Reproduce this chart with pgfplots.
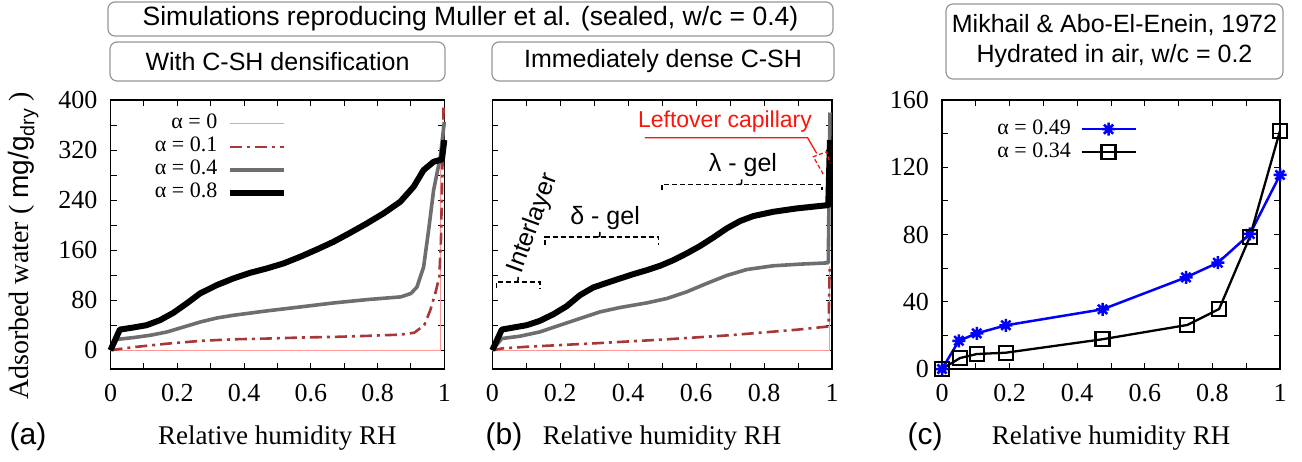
\documentclass[border=0pt]{standalone}
\usepackage{fontspec}
\setmainfont{Liberation Serif}
\setsansfont{Liberation Sans}
\usepackage{pgfplots}
\pgfplotsset{compat=1.18}

\definecolor{pinkline}{RGB}{255,150,150}
\definecolor{brick}{RGB}{168,56,56}
\definecolor{midgray}{RGB}{110,110,110}
\definecolor{boxgray}{RGB}{150,150,150}
\definecolor{capred}{RGB}{255,20,10}

% gnuplot-style asterisk: a plus and a cross on top of each other
\pgfdeclareplotmark{starcross}{%
  \pgfpathmoveto{\pgfqpoint{-\pgfplotmarksize}{0pt}}%
  \pgfpathlineto{\pgfqpoint{\pgfplotmarksize}{0pt}}%
  \pgfpathmoveto{\pgfqpoint{0pt}{-\pgfplotmarksize}}%
  \pgfpathlineto{\pgfqpoint{0pt}{\pgfplotmarksize}}%
  \pgfpathmoveto{\pgfqpoint{-0.707\pgfplotmarksize}{-0.707\pgfplotmarksize}}%
  \pgfpathlineto{\pgfqpoint{0.707\pgfplotmarksize}{0.707\pgfplotmarksize}}%
  \pgfpathmoveto{\pgfqpoint{-0.707\pgfplotmarksize}{0.707\pgfplotmarksize}}%
  \pgfpathlineto{\pgfqpoint{0.707\pgfplotmarksize}{-0.707\pgfplotmarksize}}%
  \pgfusepathqstroke}

\newcommand{\ticksize}{\fontsize{26}{30}\selectfont}
\newcommand{\labelsize}{\fontsize{27}{31}\selectfont}
\newcommand{\legsize}{\fontsize{22}{26}\selectfont}
\newcommand{\boxsize}{\fontsize{25}{29}\selectfont}

\pgfplotsset{
  rhpanel/.style={
    scale only axis, height=269pt,
    xmin=0, xmax=1,
    xtick={0,0.2,0.4,0.6,0.8,1}, minor x tick num=1,
    tick align=inside, major tick length=6pt, minor tick length=6pt,
    tick style={black, line width=0.9pt},
    axis line style={line width=1.3pt},
    /pgf/number format/assume math mode=true,
    tick label style={font=\ticksize},
    xticklabel style={anchor=base, yshift=-32pt, inner sep=0pt},
    yticklabel style={anchor=east, xshift=-13pt, inner sep=0pt},
    every axis x label/.style={at={(axis description cs:0.5,-0.282)}, anchor=base, font=\labelsize},
    xlabel={Relative humidity RH},
    clip=false,
    legend plot pos=right,
  },
  wetlegend/.style={
    legend style={draw=none, fill=none, anchor=north east,
      legend cell align=right, font=\legsize, inner sep=0pt, row sep=0pt,
      nodes={inner sep=1.5pt, text height=15pt, text depth=5pt},
      /tikz/every odd column/.append style={column sep=8pt}},
  },
}

\begin{document}
\begin{tikzpicture}[x=1pt,y=1pt]
\useasboundingbox (0,0) rectangle (1302,461);

% title boxes
\draw[boxgray, line width=1.2pt, rounded corners=7pt] (108,459) rectangle (833,425);
\node[font=\sffamily\fontsize{26.5}{30}\selectfont] at (470.5,442) {Simulations reproducing Muller et al. (sealed, w/c = 0.4)};
\draw[boxgray, line width=1.2pt, rounded corners=7pt] (110,419) rectangle (445,380);
\node[font=\sffamily\boxsize] at (277.5,399.5) {With C-SH densification};
\draw[boxgray, line width=1.2pt, rounded corners=7pt] (492,419) rectangle (834,380);
\node[font=\sffamily\boxsize] at (663,399.5) {Immediately dense C-SH};
\draw[boxgray, line width=1.2pt, rounded corners=7pt] (946,457) rectangle (1283,382);
\node[font=\sffamily\boxsize, align=center] at (1114.5,419.5) {Mikhail \& Abo-El-Enein, 1972\\[1pt]Hydrated in air, w/c = 0.2};

% panel tags
\node[font=\sffamily\fontsize{30}{34}\selectfont] at (28,24) {(a)};
\node[font=\sffamily\fontsize{30}{34}\selectfont] at (504,24) {(b)};
\node[font=\sffamily\fontsize{30}{34}\selectfont] at (925,24) {(c)};

% (a) with C-S-H densification
\begin{axis}[rhpanel, wetlegend, at={(110.5pt,92pt)}, anchor=south west, width=333.8pt,
  ymin=-30, ymax=400, ytick={0,80,...,400}, minor y tick num=1,
  every axis y label/.style={at={(axis description cs:-0.245,0.457)}, rotate=90, anchor=base, font=\fontsize{28}{32}\selectfont},
  ylabel={Adsorbed water ( {\sffamily mg/g\textsubscript{dry}} )},
  legend style={at={(0.529,0.955)}},
  legend image code/.code={\draw[#1] (0pt,0pt) -- (54pt,0pt);}]
\addplot[pinkline, line width=1pt] coordinates {(0,0) (0.988,0) (0.988,305)};
\addlegendentry{α = 0}
\addplot[brick, line width=2.6pt, dash pattern=on 12pt off 5pt on 3pt off 5pt] coordinates {
 (0,0) (0.07,5) (0.17,10.5) (0.27,15) (0.37,17.5) (0.47,18.7) (0.57,20.3) (0.67,21.3)
 (0.77,23) (0.87,25) (0.91,28) (0.94,40) (0.958,64) (0.973,91) (0.985,117) (0.99,176)
 (0.995,309) (0.998,395)};
\addlegendentry{α = 0.1}
\addplot[midgray, line width=3.6pt, line join=round] coordinates {
 (0,0) (0.014,17) (0.07,20.3) (0.12,24) (0.17,29.3) (0.22,37.3) (0.27,45.3) (0.32,51.7)
 (0.37,56) (0.47,63) (0.57,69.3) (0.67,75.7) (0.77,81) (0.87,85.3) (0.90,90.7) (0.918,101)
 (0.938,133) (0.953,192) (0.968,256) (0.988,309) (1.0,365)};
\addlegendentry{α = 0.4}
\addplot[black, line width=6pt, line join=round] coordinates {
 (0,0) (0.028,33) (0.068,36.3) (0.108,40) (0.148,48) (0.188,59.7) (0.228,74.7) (0.268,90.7)
 (0.318,104) (0.368,114.7) (0.418,123.7) (0.468,130.7) (0.518,138.7) (0.568,149.3)
 (0.618,161) (0.668,173.3) (0.718,187.7) (0.768,202.7) (0.818,218.7) (0.868,237.3)
 (0.908,261.3) (0.938,288) (0.968,301.3) (0.993,305) (1.0,336)};
\addlegendentry{α = 0.8}
\end{axis}

% (b) immediately dense C-S-H
\begin{axis}[rhpanel, at={(492.3pt,92pt)}, anchor=south west, width=339.7pt,
  ymin=-30, ymax=400, ytick={0,80,...,400}, minor y tick num=1, yticklabels={}]
\addplot[pinkline, line width=1pt] coordinates {(0,0) (0.992,0) (0.992,135)};
\addplot[brick, line width=2.6pt, dash pattern=on 12pt off 5pt on 3pt off 5pt] coordinates {
 (0,0) (0.03,3) (0.1,5.5) (0.3,11) (0.5,17) (0.7,24) (0.9,33) (0.99,38) (0.993,130)};
\addplot[midgray, line width=3.6pt, line join=round] coordinates {
 (0,0) (0.028,18.7) (0.081,22.4) (0.14,29.3) (0.199,40) (0.258,50.7) (0.317,61.3)
 (0.376,68.3) (0.455,75.7) (0.514,82.7) (0.572,93.3) (0.631,106.7) (0.69,119.5)
 (0.749,129) (0.827,135) (0.906,137.6) (0.989,139.7) (0.994,380)};
\addplot[black, line width=6pt, line join=round] coordinates {
 (0,0) (0.028,33) (0.062,36.3) (0.101,40) (0.14,47) (0.18,57.6) (0.219,70.4) (0.258,88)
 (0.297,100.3) (0.337,107.7) (0.376,114.7) (0.415,121.6) (0.455,128) (0.494,135)
 (0.533,144) (0.572,154.7) (0.611,166.4) (0.651,180.3) (0.69,194.7) (0.729,206.4)
 (0.768,214.4) (0.827,221.3) (0.896,226.7) (0.989,232) (0.994,336)};
% pore-range braces, each with a small centre hook
\begin{scope}[line width=1.5pt, dash pattern=on 5pt off 3pt]
\draw (axis cs:0.013,98.7) -- (axis cs:0.013,109.3) -- (axis cs:0.14,109.3) -- (axis cs:0.14,98.7);
\draw (axis cs:0.155,168) -- (axis cs:0.155,181.3) -- (axis cs:0.489,181.3) -- (axis cs:0.489,168);
\draw (axis cs:0.499,256) -- (axis cs:0.499,265) -- (axis cs:0.970,265) -- (axis cs:0.970,256);
\end{scope}
\begin{scope}[line width=1.5pt]
\draw (axis cs:0.066,109.3) .. controls (axis cs:0.076,109.3) .. (axis cs:0.076,117.3);
\draw (axis cs:0.307,181.3) .. controls (axis cs:0.317,181.3) .. (axis cs:0.317,189.3);
\draw (axis cs:0.724,265) .. controls (axis cs:0.734,265) .. (axis cs:0.734,273);
\end{scope}
\node[font=\sffamily\fontsize{25}{29}\selectfont, rotate=70] at (axis cs:0.12,203) {Interlayer};
\node[font=\sffamily\fontsize{25}{29}\selectfont] at (axis cs:0.332,210.7) {δ - gel};
\node[font=\sffamily\fontsize{25}{29}\selectfont] at (axis cs:0.738,296) {λ - gel};
\node[font=\sffamily\fontsize{23}{27}\selectfont, text=capred] at (axis cs:0.685,365.3) {Leftover capillary};
\draw[capred, line width=1.3pt] (axis cs:0.449,339.7) -- (axis cs:0.928,339.7) -- (axis cs:0.955,314.7);
\draw[capred, line width=1.3pt, dash pattern=on 4pt off 2.5pt] (axis cs:0.974,281.6) -- (axis cs:0.945,309.3) -- (axis cs:0.984,317.3) -- (axis cs:0.994,299);
\end{axis}

% (c) Mikhail & Abo-El-Enein
\begin{axis}[rhpanel, wetlegend, at={(942pt,92pt)}, anchor=south west, width=338pt,
  ymin=0, ymax=160, ytick={0,40,...,160}, minor y tick num=1,
  legend style={at={(0.577,0.935)}},
  legend image code/.code={\draw[mark repeat=2, mark phase=2, #1] plot coordinates {(0pt,0pt) (27pt,0pt) (54pt,0pt)};}]
\addplot[blue, line width=2.5pt, mark=starcross, mark size=6.5pt, mark options={line width=2.5pt}] coordinates {
 (0,0) (0.05,16.8) (0.103,21.2) (0.189,26) (0.475,35.5) (0.722,54.5) (0.816,63.2) (0.911,80.3) (1.0,115.4)};
\addlegendentry{α = 0.49}
\addplot[black, line width=2.3pt, mark=square, mark size=7pt, mark options={line width=2.2pt}] coordinates {
 (0,0) (0.053,6.5) (0.103,8.9) (0.189,9.7) (0.475,17.7) (0.726,26.2) (0.82,35.7) (0.911,78.7) (1.0,141.7)};
\addlegendentry{α = 0.34}
\end{axis}
\end{tikzpicture}
\end{document}
